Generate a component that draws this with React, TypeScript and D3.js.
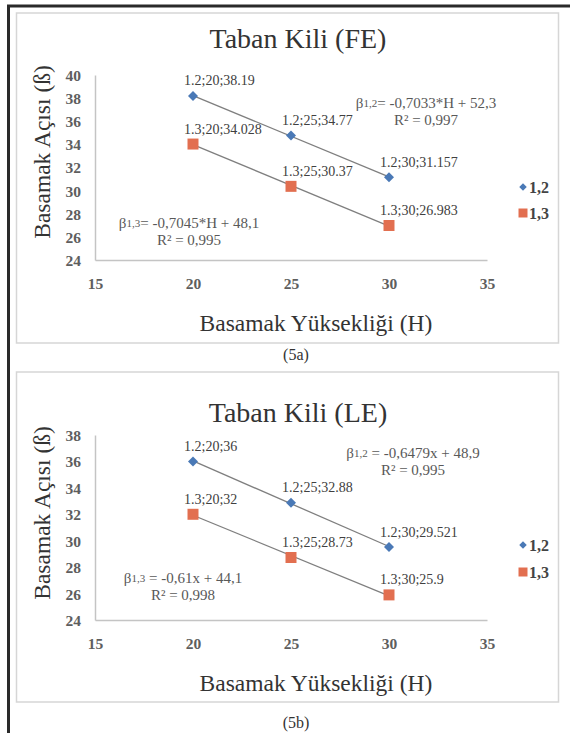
import React, {useEffect, useRef} from 'react';
import * as d3 from 'd3';

// shared x values (Basamak Yüksekliği, H)
const heights = [20, 25, 30];
const xTicks = [15, 20, 25, 30, 35];
const seriesNames = ['1.2', '1.3'];
const legendNames = ['1,2', '1,3'];
const eqSubs = ['1,2', '1,3'];

// Taban Kili (FE)
const feSeries12 = [38.19, 34.77, 31.157];
const feSeries13 = [34.028, 30.37, 26.983];
const feYTicks = [24, 26, 28, 30, 32, 34, 36, 38, 40];
const feEquations = ['= -0,7033*H + 52,3', '= -0,7045*H + 48,1'];
const feR2 = ['R² = 0,997', 'R² = 0,995'];

// Taban Kili (LE)
const leSeries12 = [36, 32.88, 29.521];
const leSeries13 = [32, 28.73, 25.9];
const leYTicks = [24, 26, 28, 30, 32, 34, 36, 38];
const leEquations = [' = -0,6479x + 48,9', ' = -0,61x + 44,1'];
const leR2 = ['R² = 0,995', 'R² = 0,998'];

const FONT = '"Liberation Serif", "Times New Roman", serif';
const BLUE = '#4a79b6';
const ORANGE = '#e26f50';

// least squares fit, same as the Excel trendline
function fit(xs: number[], ys: number[]) {
  const mx = d3.mean(xs) as number;
  const my = d3.mean(ys) as number;
  const slope =
    d3.sum(xs, (x, i) => (x - mx) * (ys[i] - my)) / d3.sum(xs, (x) => (x - mx) ** 2);
  return {slope, intercept: my - slope * mx};
}

const panels = [
  {
    title: 'Taban Kili (FE)',
    caption: '(5a)',
    series: [feSeries12, feSeries13],
    yTicks: feYTicks,
    equations: feEquations,
    r2: feR2,
    frame: [13, 343],
    titleY: 38,
    plot: [75, 260],
    yTitleY: 152,
    xTitleY: 323,
    captionY: 354,
    legendY: [187, 213],
    eqPos: [[426, 103], [189, 223]],
  },
  {
    title: 'Taban Kili (LE)',
    caption: '(5b)',
    series: [leSeries12, leSeries13],
    yTicks: leYTicks,
    equations: leEquations,
    r2: leR2,
    frame: [372, 702],
    titleY: 412,
    plot: [435, 620],
    yTitleY: 513,
    xTitleY: 683,
    captionY: 722,
    legendY: [545, 572],
    eqPos: [[413, 453], [183, 578]],
  },
];

const App: React.FC = () => {
  const svgRef = useRef<SVGSVGElement>(null);

  useEffect(() => {
    const svg = d3.select(svgRef.current);
    svg.selectAll('*').remove();

    // outer frame (only top and left edges are visible)
    svg.append('line').attr('x1', 7).attr('x2', 570).attr('y1', 6).attr('y2', 6)
      .attr('stroke', '#2a2a2a').attr('stroke-width', 3);
    svg.append('line').attr('x1', 8.5).attr('x2', 8.5).attr('y1', 5).attr('y2', 733)
      .attr('stroke', '#2a2a2a').attr('stroke-width', 3);

    panels.forEach((p) => {
      const g = svg.append('g');
      const x = d3.scaleLinear().domain([15, 35]).range([95, 487]);
      const y = d3
        .scaleLinear()
        .domain([p.yTicks[0], p.yTicks[p.yTicks.length - 1]])
        .range([p.plot[1], p.plot[0]]);

      // panel border
      g.append('rect')
        .attr('x', 16.5).attr('y', p.frame[0])
        .attr('width', 542).attr('height', p.frame[1] - p.frame[0])
        .attr('fill', 'none').attr('stroke', '#d6d6d6').attr('stroke-width', 1.5);

      // title
      g.append('text').attr('x', 298).attr('y', p.titleY)
        .attr('text-anchor', 'middle').attr('dominant-baseline', 'central')
        .attr('font-family', FONT).attr('font-size', 28).attr('fill', '#333')
        .text(p.title);

      // axes
      const xAxis = g.append('g')
        .attr('transform', `translate(0,${y(p.yTicks[0])})`)
        .call(d3.axisBottom(x).tickValues(xTicks).tickSize(0).tickSizeOuter(0));
      const yAxis = g.append('g')
        .attr('transform', `translate(${x(15)},0)`)
        .call(d3.axisLeft(y).tickValues(p.yTicks).tickSize(0).tickSizeOuter(0));
      [xAxis, yAxis].forEach((a) => {
        a.select('.domain').attr('stroke', '#c4c4c4').attr('stroke-width', 1.5);
        a.selectAll('text')
          .attr('font-family', FONT).attr('font-size', 15.5)
          .attr('font-weight', 'bold').attr('fill', '#5e5e5e');
      });
      xAxis.selectAll('text').attr('y', 24).attr('dy', '0.35em');
      yAxis.selectAll('text').attr('x', -14).attr('dy', '0.35em');

      // axis titles
      g.append('text').attr('x', 316).attr('y', p.xTitleY)
        .attr('text-anchor', 'middle').attr('dominant-baseline', 'central')
        .attr('font-family', FONT).attr('font-size', 23.5).attr('fill', '#333')
        .text('Basamak Yüksekliği (H)');
      g.append('text')
        .attr('transform', `translate(42,${p.yTitleY}) rotate(-90)`)
        .attr('text-anchor', 'middle').attr('dominant-baseline', 'central')
        .attr('font-family', FONT).attr('font-size', 23.5).attr('fill', '#333')
        .text('Basamak Açısı (ß)');

      // trendlines
      p.series.forEach((vals) => {
        const f = fit(heights, vals);
        const x0 = heights[0];
        const x1 = heights[heights.length - 1];
        g.append('line')
          .attr('x1', x(x0)).attr('y1', y(f.slope * x0 + f.intercept))
          .attr('x2', x(x1)).attr('y2', y(f.slope * x1 + f.intercept))
          .attr('stroke', '#7f7f7f').attr('stroke-width', 1.3);
      });

      // markers and data labels
      p.series.forEach((vals, si) => {
        const sym = si === 0
          ? d3.symbol(d3.symbolSquare, 50)
          : d3.symbol(d3.symbolSquare, 121);
        vals.forEach((v, i) => {
          g.append('path')
            .attr('d', sym())
            .attr('transform', `translate(${x(heights[i])},${y(v)})` + (si === 0 ? ' rotate(45)' : ''))
            .attr('fill', si === 0 ? BLUE : ORANGE);
          g.append('text')
            .attr('x', x(heights[i]) - 9).attr('y', y(v) - 15)
            .attr('dominant-baseline', 'central')
            .attr('font-family', FONT).attr('font-size', 14).attr('fill', '#404040')
            .text(`${seriesNames[si]};${heights[i]};${v}`);
        });
      });

      // trendline equations
      p.equations.forEach((eq, i) => {
        const [ex, ey] = p.eqPos[i];
        const t = g.append('text').attr('x', ex).attr('y', ey)
          .attr('text-anchor', 'middle').attr('dominant-baseline', 'central')
          .attr('font-family', FONT).attr('font-size', 15).attr('fill', '#595959');
        t.append('tspan').text('β');
        t.append('tspan').attr('font-size', 11).text(eqSubs[i]);
        t.append('tspan').text(eq);
        g.append('text').attr('x', ex).attr('y', ey + 17)
          .attr('text-anchor', 'middle').attr('dominant-baseline', 'central')
          .attr('font-family', FONT).attr('font-size', 15).attr('fill', '#595959')
          .text(p.r2[i]);
      });

      // legend
      legendNames.forEach((name, i) => {
        const ly = p.legendY[i];
        g.append('path')
          .attr('d', d3.symbol(d3.symbolSquare, i === 0 ? 28 : 81)())
          .attr('transform', `translate(523,${ly})` + (i === 0 ? ' rotate(45)' : ''))
          .attr('fill', i === 0 ? BLUE : ORANGE);
        g.append('text').attr('x', 529).attr('y', ly)
          .attr('dominant-baseline', 'central')
          .attr('font-family', FONT).attr('font-size', 16).attr('font-weight', 'bold')
          .attr('fill', '#444').text(name);
      });

      // caption
      g.append('text').attr('x', 296).attr('y', p.captionY)
        .attr('text-anchor', 'middle').attr('dominant-baseline', 'central')
        .attr('font-family', FONT).attr('font-size', 16).attr('fill', '#333')
        .text(p.caption);
    });
  }, []);

  return (
    <svg
      ref={svgRef}
      width={570}
      height={733}
      style={{position: 'absolute', left: 0, top: 0, background: '#fff'}}
    />
  );
};

export default App;
